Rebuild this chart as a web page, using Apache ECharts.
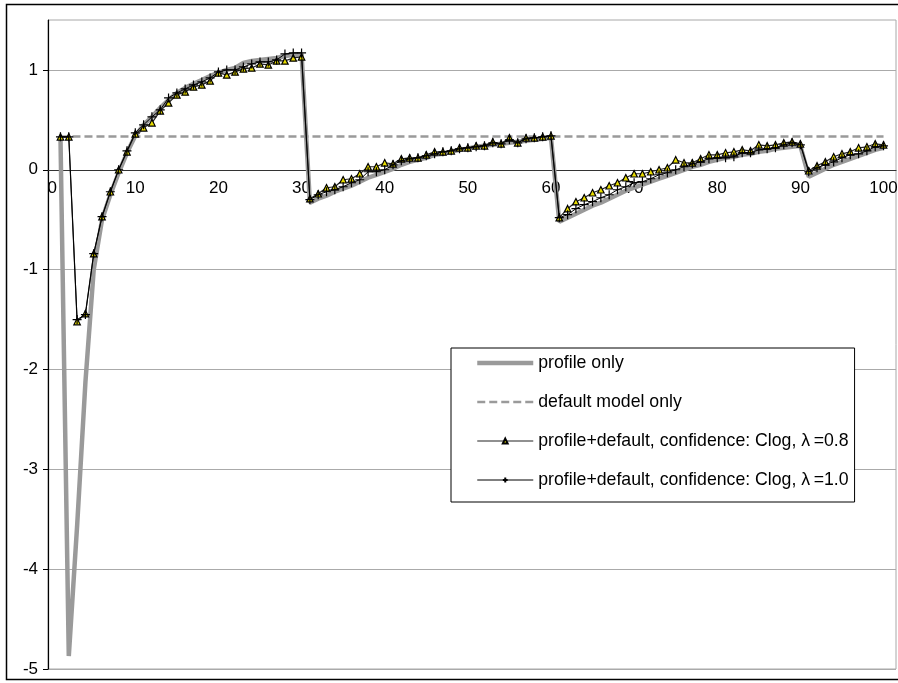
<!DOCTYPE html>
<html>
<head>
<meta charset="utf-8">
<script src="https://cdn.jsdelivr.net/npm/echarts@6/dist/echarts.min.js"></script>
<style>
  html, body { margin: 0; padding: 0; background: #fff; }
  #chart { width: 898px; height: 683px; }
</style>
</head>
<body>
<div id="chart"></div>
<script>
// Step index 0..101; data occupies steps 1..100, labels every 10 steps.
const steps = Array.from({ length: 102 }, (_, i) => String(i));

// Y axis range and tick values
const yMin = -5, yMax = 1.5;
const yTicks = [-5, -4, -3, -2, -1, 0, 1];

// Series names
const seriesNames = [
  'profile only',
  'default model only',
  'profile+default, confidence: Clog, λ\u2009=0.8',
  'profile+default, confidence: Clog, λ\u2009=1.0'
];

// profile only, steps 1..100
const profileOnly = [
  0.33, -4.87, -3.57, -2.13, -1.00, -0.50, -0.25, -0.03, 0.17, 0.34,
  0.45, 0.53, 0.62, 0.70, 0.77, 0.82, 0.86, 0.90, 0.94, 0.97,
  1.00, 1.02, 1.07, 1.09, 1.10, 1.11, 1.12, 1.14, 1.15, 1.16,
  -0.33, -0.29, -0.26, -0.22, -0.19, -0.16, -0.12, -0.08, -0.05, -0.02,
  0.01, 0.05, 0.08, 0.10, 0.12, 0.15, 0.16, 0.18, 0.20, 0.21,
  0.23, 0.24, 0.25, 0.26, 0.27, 0.28, 0.29, 0.30, 0.31, 0.32,
  -0.52, -0.48, -0.44, -0.40, -0.36, -0.33, -0.29, -0.25, -0.21, -0.18,
  -0.15, -0.12, -0.09, -0.06, -0.03, 0.00, 0.03, 0.05, 0.08, 0.10,
  0.12, 0.13, 0.15, 0.16, 0.18, 0.19, 0.21, 0.22, 0.23, 0.24,
  -0.07, -0.03, 0.01, 0.05, 0.08, 0.11, 0.14, 0.17, 0.20, 0.22
];

// default model only: constant level from step 1 to step 100
const defaultModelLevel = 0.333;
const defaultModelSpan = ['1', '100'];

// profile+default, lambda = 0.8
const clog08 = [
  0.33, 0.33, -1.52, -1.44, -0.84, -0.47, -0.22, 0.00, 0.18, 0.36,
  0.42, 0.47, 0.59, 0.67, 0.75, 0.78, 0.83, 0.85, 0.89, 0.97,
  0.95, 0.98, 1.01, 1.02, 1.06, 1.05, 1.09, 1.09, 1.12, 1.13,
  -0.29, -0.24, -0.18, -0.17, -0.10, -0.09, -0.04, 0.03, 0.03, 0.07,
  0.06, 0.11, 0.12, 0.12, 0.15, 0.18, 0.18, 0.19, 0.22, 0.22,
  0.24, 0.24, 0.28, 0.26, 0.32, 0.27, 0.32, 0.32, 0.33, 0.34,
  -0.48, -0.39, -0.32, -0.28, -0.23, -0.20, -0.16, -0.13, -0.08, -0.04,
  -0.04, -0.02, 0.00, 0.02, 0.10, 0.07, 0.07, 0.11, 0.15, 0.15,
  0.17, 0.18, 0.20, 0.19, 0.25, 0.24, 0.25, 0.27, 0.28, 0.26,
  -0.01, 0.04, 0.08, 0.13, 0.16, 0.18, 0.22, 0.23, 0.26, 0.25
];

// profile+default, lambda = 1.0
const clog10 = [
  0.33, 0.33, -1.50, -1.45, -0.84, -0.47, -0.22, 0.00, 0.19, 0.37,
  0.45, 0.53, 0.60, 0.72, 0.77, 0.81, 0.85, 0.88, 0.92, 0.98,
  1.00, 1.00, 1.03, 1.06, 1.08, 1.08, 1.10, 1.16, 1.17, 1.17,
  -0.30, -0.25, -0.22, -0.20, -0.17, -0.13, -0.10, -0.02, -0.02, 0.00,
  0.05, 0.09, 0.11, 0.12, 0.14, 0.16, 0.18, 0.19, 0.21, 0.22,
  0.23, 0.24, 0.27, 0.26, 0.30, 0.27, 0.31, 0.32, 0.33, 0.34,
  -0.48, -0.45, -0.39, -0.35, -0.32, -0.28, -0.25, -0.20, -0.17, -0.13,
  -0.12, -0.09, -0.05, -0.03, 0.00, 0.03, 0.06, 0.08, 0.11, 0.12,
  0.12, 0.13, 0.17, 0.17, 0.20, 0.21, 0.22, 0.25, 0.27, 0.25,
  -0.02, 0.02, 0.05, 0.08, 0.12, 0.15, 0.16, 0.19, 0.23, 0.24
];

// Place a 100-value series on steps 1..100 of the category axis
const onSteps = vals => [null, ...vals, null];

const FONT = 'Liberation Sans, Arial, sans-serif';
const crossPath = 'path://M5,0L5,10M0,5L10,5';

// Plot box
const GRID = { left: 48, top: 20, right: 2, bottom: 14 };
const CHART_H = 683;
const plotH = CHART_H - GRID.top - GRID.bottom;
// Lift the step axis from the plot bottom up to the value 0
const zeroOffset = -plotH * (0 - yMin) / (yMax - yMin);

const chart = echarts.init(document.getElementById('chart'), null, { renderer: 'canvas' });

const noMarker = { color: 'rgba(0,0,0,0)', borderWidth: 0, borderColor: 'rgba(0,0,0,0)' };

chart.setOption({
  animation: false,
  backgroundColor: '#fff',
  textStyle: { fontFamily: FONT },
  graphic: [{
    type: 'rect',
    silent: true,
    z: 100,
    shape: { x: 6.5, y: 4.5, width: 900, height: 675 },
    style: { fill: 'none', stroke: '#000', lineWidth: 1.5 }
  }],
  grid: Object.assign({
    outerBoundsMode: 'none',
    containLabel: false,
    show: true, borderColor: '#a8a8a8', borderWidth: 1,
    backgroundColor: 'transparent'
  }, GRID),
  legend: {
    orient: 'vertical',
    left: 451, top: 348,
    padding: [6, 6, 13, 24],
    itemWidth: 56, itemHeight: 6, itemGap: 21,
    backgroundColor: '#fff',
    borderColor: '#000', borderWidth: 1,
    lineStyle: { width: 'inherit' },
    textStyle: { fontFamily: FONT, fontSize: 17.7, color: '#000' },
    data: [
      { name: seriesNames[0], itemStyle: noMarker },
      { name: seriesNames[1], itemStyle: noMarker },
      { name: seriesNames[2] },
      { name: seriesNames[3] }
    ]
  },
  xAxis: {
    type: 'category',
    data: steps,
    boundaryGap: true,
    position: 'bottom',
    offset: zeroOffset,
    axisLine: { onZero: false, lineStyle: { color: '#333', width: 1.2 } },
    axisTick: { interval: 9, length: 5, inside: false, lineStyle: { color: '#333' } },
    axisLabel: { interval: 9, margin: 10, fontSize: 17, color: '#000', fontFamily: FONT },
    splitLine: { show: false }
  },
  yAxis: {
    type: 'value',
    min: yMin, max: yMax, interval: 1,
    axisLine: { show: true, lineStyle: { color: '#000', width: 1.2 } },
    axisTick: { show: true, length: 5, inside: false, customValues: yTicks, lineStyle: { color: '#000' } },
    axisLabel: { margin: 10, fontSize: 17, color: '#000', fontFamily: FONT, customValues: yTicks },
    splitLine: { show: true, lineStyle: { color: '#aaaaaa', width: 1 } }
  },
  series: [
    {
      name: seriesNames[0],
      type: 'line',
      data: onSteps(profileOnly),
      symbol: 'none',
      lineStyle: { color: '#9a9a9a', width: 4.5 },
      itemStyle: { color: '#9a9a9a' },
      z: 2
    },
    {
      name: seriesNames[1],
      type: 'line',
      data: defaultModelSpan.map(s => [s, defaultModelLevel]),
      symbol: 'none',
      lineStyle: { color: '#9a9a9a', width: 2.5, type: [8, 4] },
      itemStyle: { color: '#9a9a9a' },
      z: 3
    },
    {
      name: seriesNames[2],
      type: 'line',
      data: onSteps(clog08),
      symbol: 'triangle',
      symbolSize: 6.5,
      showAllSymbol: true,
      lineStyle: { color: '#222', width: 1.2 },
      itemStyle: { color: '#e8dc00', borderColor: '#000', borderWidth: 1.2 },
      z: 4
    },
    {
      name: seriesNames[3],
      type: 'line',
      data: onSteps(clog10),
      symbol: crossPath,
      symbolSize: 9,
      showAllSymbol: true,
      lineStyle: { color: '#000', width: 1 },
      itemStyle: { color: 'none', borderColor: '#000', borderWidth: 1.2 },
      z: 5
    }
  ]
});
</script>
</body>
</html>
